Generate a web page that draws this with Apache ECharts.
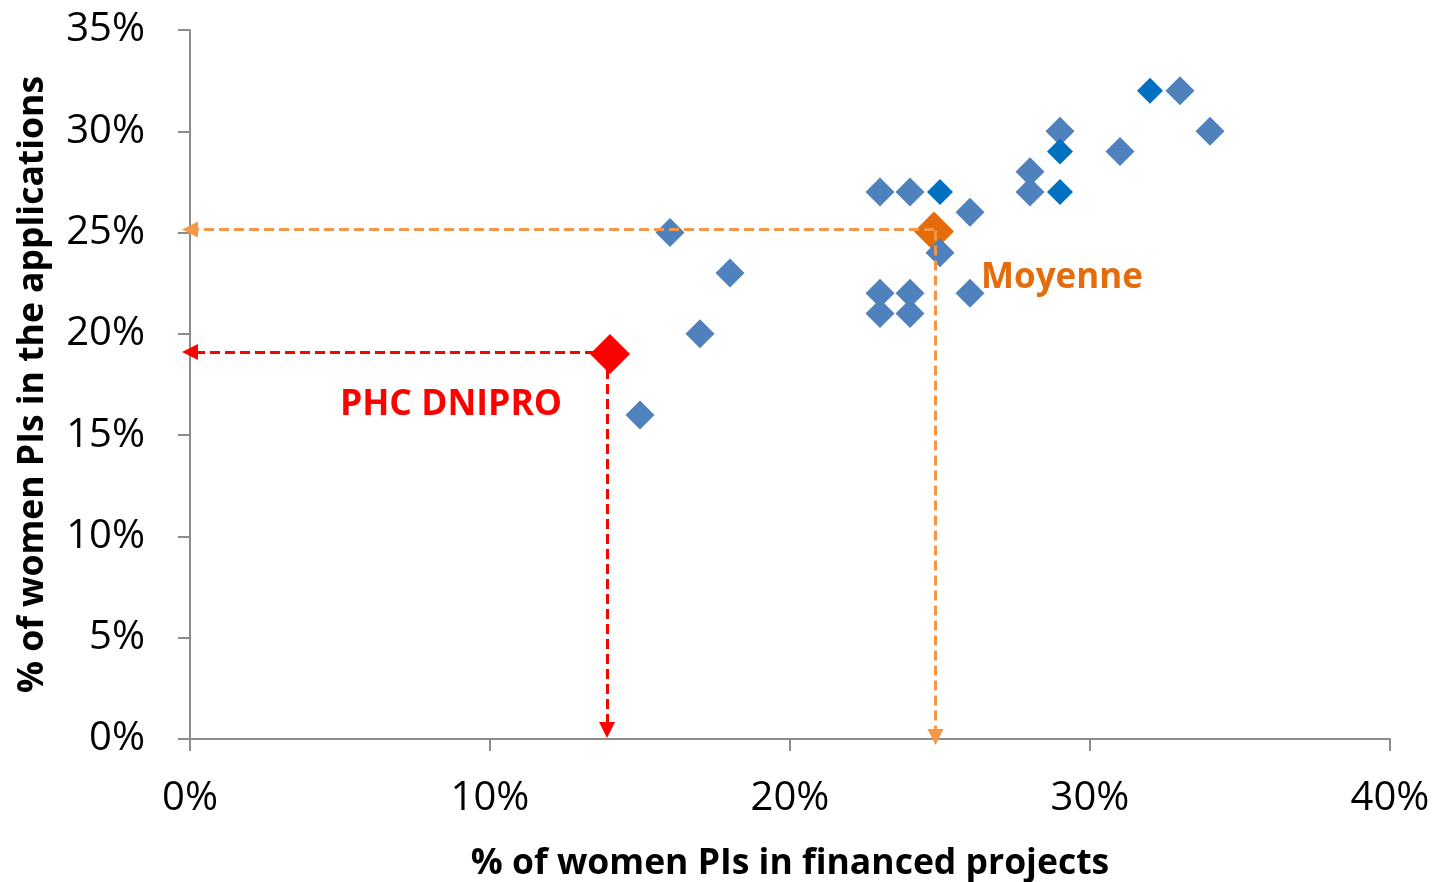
<!DOCTYPE html>
<html><head><meta charset="utf-8">
<script src="https://cdn.jsdelivr.net/npm/echarts@6/dist/echarts.min.js"></script>
<style>html,body{margin:0;padding:0;background:#fff}#c{width:1435px;height:882px}</style>
</head><body><div id="c"></div>
<script>
// Data (percent values)
const xBlue = [16, 18, 17, 15, 23, 24, 26, 25, 23, 24, 23, 24, 26, 28, 28, 29, 31, 33, 34];
const yBlue = [25, 23, 20, 16, 27, 27, 26, 24, 22, 22, 21, 21, 22, 28, 27, 30, 29, 32, 30];
const xDark = [25, 29, 29, 32];
const yDark = [27, 29, 27, 32];
const moyenne = [24.8, 25.05];
const phc = [14.0, 19.0];
const moyenneLines = { h: [24.8, 25.15, 0.0], v: [24.85, 25.1, 0.1] };
const phcLines = { h: [14.0, 19.1, 0.0], v: [13.9, 19.0, 0.45] };
const xTicks = [0, 10, 20, 30, 40];
const yTicks = [0, 5, 10, 15, 20, 25, 30, 35];
const labels = { x: '% of women PIs in financed projects', y: '% of women PIs in the applications', phc: 'PHC DNIPRO', moy: 'Moyenne' };

const blueData = xBlue.map((x, i) => [x, yBlue[i]]);
const darkData = xDark.map((x, i) => [x, yDark[i]]);

function arrowLines(l) {
  return [
    [{ coord: [l.h[0], l.h[1]] }, { coord: [l.h[2], l.h[1]] }],
    [{ coord: [l.v[0], l.v[1]] }, { coord: [l.v[0], l.v[2]] }]
  ];
}

const chart = echarts.init(document.getElementById('c'), null, { renderer: 'canvas' });
const axisCol = '#8c8c8c';
const titleFont = { fontFamily: 'Open Sans', fontWeight: 'bold', fontSize: 35.5, color: '#000' };
chart.setOption({
  animation: false,
  grid: { left: 190, right: 45, top: 30, bottom: 143, containLabel: false, outerBoundsMode: 'none' },
  xAxis: {
    type: 'value', min: 0, max: 40, interval: 10,
    name: labels.x, nameLocation: 'middle', nameGap: 107,
    nameTextStyle: titleFont,
    axisLine: { show: true, onZero: false, lineStyle: { color: axisCol, width: 2 } },
    axisTick: { show: true, length: 12, lineStyle: { color: axisCol, width: 2 } },
    splitLine: { show: false },
    axisLabel: { formatter: v => v + '%', fontFamily: 'Open Sans', fontSize: 40, color: '#000', margin: 40 }
  },
  yAxis: {
    type: 'value', min: 0, max: 35, interval: 5,
    name: labels.y, nameLocation: 'middle', nameGap: 139, nameRotate: 90,
    nameTextStyle: titleFont,
    axisLine: { show: true, onZero: false, lineStyle: { color: axisCol, width: 2 } },
    axisTick: { show: true, length: 12, lineStyle: { color: axisCol, width: 2 } },
    splitLine: { show: false },
    axisLabel: { formatter: v => v + '%', fontFamily: 'Open Sans', fontSize: 40, color: '#000', margin: 45 }
  },
  series: [
    {
      type: 'scatter', symbol: 'diamond', symbolSize: 40, z: 2,
      itemStyle: { color: '#E46C0A', opacity: 1 },
      data: [moyenne],
      label: { show: true, formatter: labels.moy, position: 'inside', offset: [128, 46],
        fontFamily: 'Open Sans', fontWeight: 'bold', fontSize: 35, color: '#E46C0A' }
    },
    {
      type: 'scatter', symbol: 'diamond', symbolSize: 29, z: 3,
      itemStyle: { color: '#4F81BD', opacity: 1 },
      data: blueData
    },
    {
      type: 'scatter', symbol: 'diamond', symbolSize: 26, z: 3,
      itemStyle: { color: '#0070C0', opacity: 1 },
      data: darkData,
      markLine: {
        silent: true, z: 5, symbol: ['none', 'triangle'], symbolSize: [16, 16], precision: 4,
        label: { show: false },
        lineStyle: { color: '#F79646', type: [10, 5], width: 3 },
        data: arrowLines(moyenneLines)
      }
    },
    {
      type: 'scatter', symbol: 'diamond', symbolSize: 40, z: 3,
      itemStyle: { color: '#FF0000', opacity: 1 },
      data: [phc],
      label: { show: true, formatter: labels.phc, position: 'inside', offset: [-159, 51],
        fontFamily: 'Open Sans', fontWeight: 'bold', fontSize: 35.5, color: '#FF0000' },
      markLine: {
        silent: true, z: 5, symbol: ['none', 'triangle'], symbolSize: [16, 16], precision: 4,
        label: { show: false },
        lineStyle: { color: '#FF0000', type: [10, 5], width: 3 },
        data: arrowLines(phcLines)
      }
    }
  ]
});
</script></body></html>
